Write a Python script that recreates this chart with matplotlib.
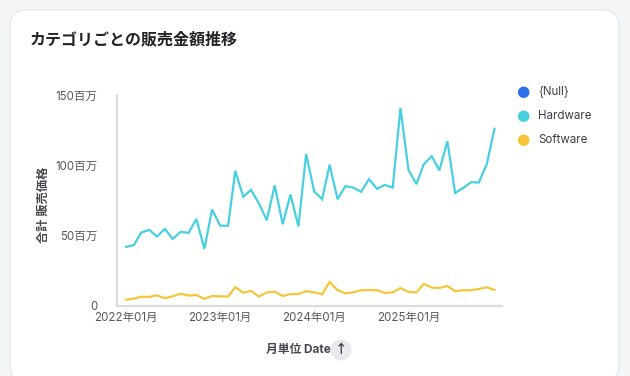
import numpy as np
import pandas as pd
import matplotlib
matplotlib.use('Agg')
import matplotlib.pyplot as plt
import matplotlib.dates as mdates
from matplotlib.patches import FancyBboxPatch

plt.rcParams['font.family'] = ['Inter', 'Noto Sans CJK JP', 'DejaVu Sans']

# monthly sales, millions of yen
months = pd.date_range('2022-01-01', periods=48, freq='MS')
hardware = [42, 43.4, 52.2, 54.1, 49.4, 54.8, 47.7, 52.7, 52, 61.9, 40.6, 68.6,
            57.2, 57, 96.1, 77.6, 82.6, 72.9, 61, 85.7, 58.1, 79.3, 56.7, 108,
            81.6, 75.9, 100.4, 75.9, 85.2, 84.2, 81.2, 90.2, 83.3, 86.1, 84.2, 140.7,
            96.8, 86.6, 100.6, 106.5, 96.4, 117.2, 80.4, 83.8, 88, 87.8, 100.9, 126]
software = [4.5, 5.2, 6.6, 6.4, 7.6, 5.5, 6.9, 8.8, 7.4, 7.9, 5, 7.1,
            6.9, 6.7, 13.3, 9.5, 10.7, 6.7, 9.7, 10.2, 7.1, 8.5, 8.5, 10.5,
            9.7, 8.3, 17.1, 11.2, 9, 9.7, 11.2, 11.4, 11.2, 9.3, 9.7, 12.8,
            10, 9.7, 15.7, 13.1, 12.8, 14.2, 10.5, 11.2, 11.2, 12.1, 13.3, 11.4]
categories = ['{Null}', 'Hardware', 'Software']
colors = ['#2f6fec', '#48d0e0', '#f8c53a']
yticks = [0, 50, 100, 150]
ytick_labels = ['0', '50百万', '100百万', '150百万']

W, H = 630, 376
fig = plt.figure(figsize=(W / 100, H / 100), dpi=100)
fig.patch.set_facecolor('#f4f5f7')

# white card behind everything
card = FancyBboxPatch((10 / 100, -5 / 100), 609 / 100, 371 / 100,
                      boxstyle='round,pad=0,rounding_size=0.16',
                      transform=fig.dpi_scale_trans, facecolor='white',
                      edgecolor='#e3e5e9', linewidth=0.8, zorder=-10)
fig.patches.append(card)

ax = fig.add_axes([117 / W, (H - 306) / H, (502 - 117) / W, (306 - 95) / H])
ax.set_facecolor('none')
ax.plot(months, hardware, color=colors[1], lw=1.6, solid_joinstyle='miter')
ax.plot(months, software, color=colors[2], lw=1.6, solid_joinstyle='miter')

ax.set_ylim(0, 150)
ax.set_xlim(months[0] - pd.Timedelta(days=35), months[-1] + pd.Timedelta(days=29))
ax.set_yticks(yticks)
ax.set_yticklabels(ytick_labels)
ax.xaxis.set_major_locator(mdates.MonthLocator(bymonth=1))
ax.xaxis.set_major_formatter(mdates.DateFormatter('%Y年%m月'))
ax.tick_params(length=0, labelsize=8.3, colors='#555a60')
ax.tick_params(axis='y', pad=14)
ax.tick_params(axis='x', pad=4)
for s in ['top', 'right']:
    ax.spines[s].set_visible(False)
for s in ['left', 'bottom']:
    ax.spines[s].set_color('#dcdcdc')
    ax.spines[s].set_linewidth(1.6)

fig.text(30 / W, 1 - 40 / H, 'カテゴリごとの販売金額推移', fontsize=11.5,
         fontweight='bold', color='#222428', va='center', ha='left')
fig.text(44 / W, 1 - 205 / H, '合計 販売価格', fontsize=8.8, fontweight='bold',
         color='#45484d', rotation=90, va='center', ha='center')
fig.text(331 / W, 1 - 350 / H, '月単位 Date', fontsize=8.5, fontweight='bold',
         color='#45484d', va='center', ha='right')
fig.text(341 / W, 1 - 350 / H, '↑', fontsize=9, fontweight='bold', color='#3a3d42',
         va='center', ha='center', family=['Noto Sans CJK JP'],
         bbox=dict(boxstyle='circle,pad=0.32', facecolor='#e8eaee', edgecolor='none'))

# legend
for i, (name, c) in enumerate(zip(categories, colors)):
    y = 1 - (92 + 24 * i) / H
    fig.text(523 / W, y, '●', fontsize=11, color=c, va='center', ha='center',
             family=['DejaVu Sans'])
    fig.text(538 / W, y, name, fontsize=8.3, color='#3b3f46', va='center', ha='left')

fig.savefig('out.png', dpi=100, facecolor=fig.get_facecolor())
